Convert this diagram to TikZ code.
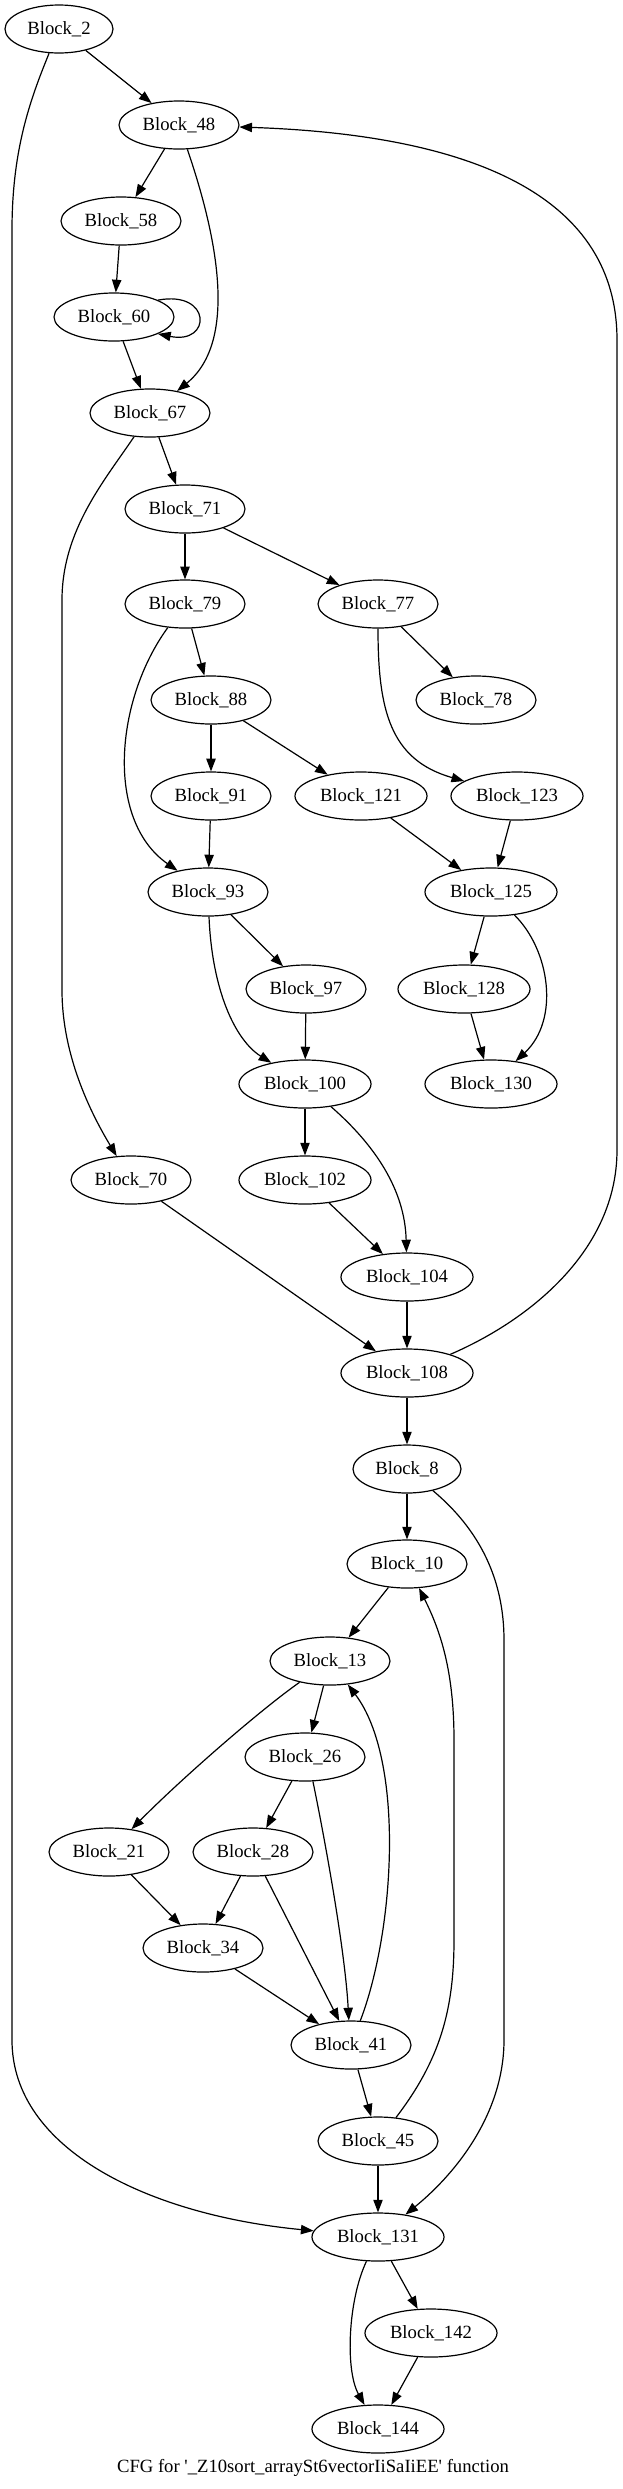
\documentclass[tikz,border=0pt]{standalone}
\usepackage{fontspec}
\setmainfont{Liberation Serif}
\usetikzlibrary{shapes.geometric,arrows.meta}
\begin{document}
\begin{tikzpicture}[x=0.75pt,y=-0.75pt,
  blk/.style={ellipse,draw,line width=0.9pt,inner sep=0pt,minimum height=36pt,font=\fontsize{14pt}{16pt}\selectfont},
  wa/.style={blk,minimum width=81pt},
  wb/.style={blk,minimum width=90pt},
  wc/.style={blk,minimum width=99pt},
  edge/.style={line width=0.9pt,-{Triangle[length=9.5pt,width=7pt]}},
  captxt/.style={font=\fontsize{14pt}{16pt}\selectfont,inner sep=0pt}]
\path[use as bounding box] (0,0) rectangle (623,2489);
% nodes
\node[wa] (b2) at (59,29) {Block\_2};
\node[wb] (b48) at (179,125) {Block\_48};
\node[wb] (b58) at (121,221) {Block\_58};
\node[wb] (b60) at (114,317) {Block\_60};
\node[wb] (b67) at (150,413) {Block\_67};
\node[wb] (b71) at (185,509) {Block\_71};
\node[wb] (b79) at (185,604) {Block\_79};
\node[wb] (b77) at (378,604) {Block\_77};
\node[wb] (b88) at (211,700) {Block\_88};
\node[wb] (b78) at (476,700) {Block\_78};
\node[wb] (b91) at (211,796) {Block\_91};
\node[wc] (b121) at (361,796) {Block\_121};
\node[wc] (b123) at (517,796) {Block\_123};
\node[wb] (b93) at (208,892) {Block\_93};
\node[wc] (b125) at (491,892) {Block\_125};
\node[wb] (b97) at (306,989) {Block\_97};
\node[wc] (b128) at (464,989) {Block\_128};
\node[wc] (b100) at (305,1084) {Block\_100};
\node[wc] (b130) at (491,1084) {Block\_130};
\node[wb] (b70) at (131,1180) {Block\_70};
\node[wc] (b102) at (305,1180) {Block\_102};
\node[wc] (b104) at (407,1277) {Block\_104};
\node[wc] (b108) at (407,1373) {Block\_108};
\node[wa] (b8) at (407,1469) {Block\_8};
\node[wb] (b10) at (407,1564) {Block\_10};
\node[wb] (b13) at (330,1661) {Block\_13};
\node[wb] (b26) at (305,1757) {Block\_26};
\node[wb] (b21) at (109,1852) {Block\_21};
\node[wb] (b28) at (253,1852) {Block\_28};
\node[wb] (b34) at (203,1948) {Block\_34};
\node[wb] (b41) at (351,2045) {Block\_41};
\node[wb] (b45) at (378,2141) {Block\_45};
\node[wc] (b131) at (378,2237) {Block\_131};
\node[wc] (b142) at (431,2333) {Block\_142};
\node[wc] (b144) at (378,2429) {Block\_144};
\node[captxt] (cap) at (313,2468) {CFG for \textquotesingle\_Z10sort\_arraySt6vectorIiSaIiEE\textquotesingle{} function};
% edges
\draw[edge] (b2) -- (b48);
\draw[edge] (b2) .. controls (30,100) and (12,150) .. (12,230) -- (12,2040) .. controls (12,2150) and (150,2215) .. (b131);
\draw[edge] (b48) -- (b58);
\draw[edge] (b48) .. controls (215,230) and (240,340) .. (b67);
\draw[edge] (b58) -- (b60);
\draw[edge] (b60.21) .. controls (212,290) and (212,345) .. (b60.-21);
\draw[edge] (b60) -- (b67);
\draw[edge] (b67) -- (b71);
\draw[edge] (b67) .. controls (105,480) and (62,530) .. (62,600) -- (62,990) .. controls (62,1060) and (95,1120) .. (b70);
\draw[edge] (b71) -- (b79);
\draw[edge] (b71) -- (b77);
\draw[edge] (b79) -- (b88);
\draw[edge] (b79) .. controls (115,700) and (105,820) .. (b93);
\draw[edge] (b77) -- (b78);
\draw[edge] (b77) .. controls (378,710) and (390,760) .. (b123);
\draw[edge] (b88) -- (b91);
\draw[edge] (b88) -- (b121);
\draw[edge] (b91) -- (b93);
\draw[edge] (b121) -- (b125);
\draw[edge] (b123) -- (b125);
\draw[edge] (b93) -- (b97);
\draw[edge] (b93) .. controls (212,990) and (235,1040) .. (b100);
\draw[edge] (b125) -- (b128);
\draw[edge] (b125) .. controls (550,950) and (560,1020) .. (b130);
\draw[edge] (b97) -- (b100);
\draw[edge] (b128) -- (b130);
\draw[edge] (b100) -- (b102);
\draw[edge] (b100) .. controls (375,1145) and (405,1190) .. (b104);
\draw[edge] (b70) -- (b108);
\draw[edge] (b102) -- (b104);
\draw[edge] (b104) -- (b108);
\draw[edge] (b108) .. controls (530,1320) and (617,1250) .. (617,1150) -- (617,340) .. controls (617,200) and (480,135) .. (b48);
\draw[edge] (b108) -- (b8);
\draw[edge] (b8) -- (b10);
\draw[edge] (b8) .. controls (480,1530) and (504,1580) .. (504,1640) -- (504,2040) .. controls (504,2110) and (460,2170) .. (b131);
\draw[edge] (b10) -- (b13);
\draw[edge] (b41) .. controls (395,1930) and (405,1760) .. (b13);
\draw[edge] (b45) .. controls (440,2060) and (454,2010) .. (454,1940) -- (454,1740) .. controls (454,1670) and (440,1630) .. (b10);
\draw[edge] (b13) -- (b26);
\draw[edge] (b13) .. controls (260,1710) and (180,1780) .. (b21);
\draw[edge] (b26) -- (b28);
\draw[edge] (b26.-72) .. controls (325,1840) and (345,1950) .. (b41.95);
\draw[edge] (b28) -- (b34);
\draw[edge] (b28.-63) -- (b41.116);
\draw[edge] (b21) -- (b34);
\draw[edge] (b34) -- (b41);
\draw[edge] (b41) -- (b45);
\draw[edge] (b45) -- (b131);
\draw[edge] (b131) -- (b142);
\draw[edge] (b131) .. controls (348,2300) and (345,2370) .. (b144);
\draw[edge] (b142) -- (b144);
\end{tikzpicture}
\end{document}
